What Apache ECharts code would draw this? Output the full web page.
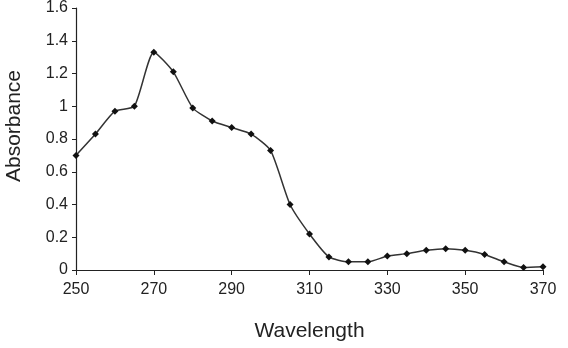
<!DOCTYPE html>
<html>
<head>
<meta charset="utf-8">
<script src="https://cdn.jsdelivr.net/npm/echarts@6/dist/echarts.min.js"></script>
<style>
  html, body { margin: 0; padding: 0; background: #fff; }
  #chart { width: 568px; height: 348px; }
</style>
</head>
<body>
<div id="chart"></div>
<script>
// wavelength (nm) and absorbance
const wavelengths = [250, 255, 260, 265, 270, 275, 280, 285, 290, 295, 300, 305, 310,
  315, 320, 325, 330, 335, 340, 345, 350, 355, 360, 365, 370]
const absorbance = [0.70, 0.83, 0.97, 1.00, 1.33, 1.21, 0.99, 0.91, 0.87, 0.83, 0.73, 0.40, 0.22,
  0.08, 0.05, 0.05, 0.085, 0.10, 0.12, 0.13, 0.12, 0.095, 0.05, 0.015, 0.02]

const chart = echarts.init(document.getElementById('chart'))
const font = 'Liberation Sans, Arial, sans-serif'

let option = {
  animation: false,
  grid: { left: 76, right: 25, top: 7, bottom: 78 },
  graphic: [{
    type: 'text',
    x: 14,
    y: 126,
    rotation: Math.PI / 2,
    style: {
      text: 'Absorbance',
      font: '21px ' + font,
      fill: '#222',
      align: 'center',
      verticalAlign: 'middle'
    }
  }],
  xAxis: {
    type: 'value',
    min: 250,
    max: 370,
    interval: 20,
    name: 'Wavelength',
    nameLocation: 'middle',
    nameGap: 51,
    nameTextStyle: { fontFamily: font, fontSize: 21, color: '#222' },
    axisLine: { lineStyle: { color: '#222', width: 1.2 } },
    axisTick: { length: 5, lineStyle: { color: '#222' } },
    axisLabel: { fontFamily: font, fontSize: 16, color: '#222', margin: 12 },
    splitLine: { show: false }
  },
  yAxis: {
    type: 'value',
    min: 0,
    max: 1.6,
    interval: 0.2,
    axisLine: { show: true, lineStyle: { color: '#222', width: 1.2 } },
    axisTick: { show: true, length: 4, lineStyle: { color: '#222' } },
    axisLabel: { fontFamily: font, fontSize: 16, color: '#222', margin: 8 },
    splitLine: { show: false }
  },
  series: [{
    type: 'line',
    data: wavelengths.map((w, i) => [w, absorbance[i]]),
    smooth: 0.2,
    symbol: 'diamond',
    symbolSize: 7,
    lineStyle: { color: '#333', width: 1.5 },
    itemStyle: { color: '#111' }
  }]
}
chart.setOption(option)
</script>
</body>
</html>
